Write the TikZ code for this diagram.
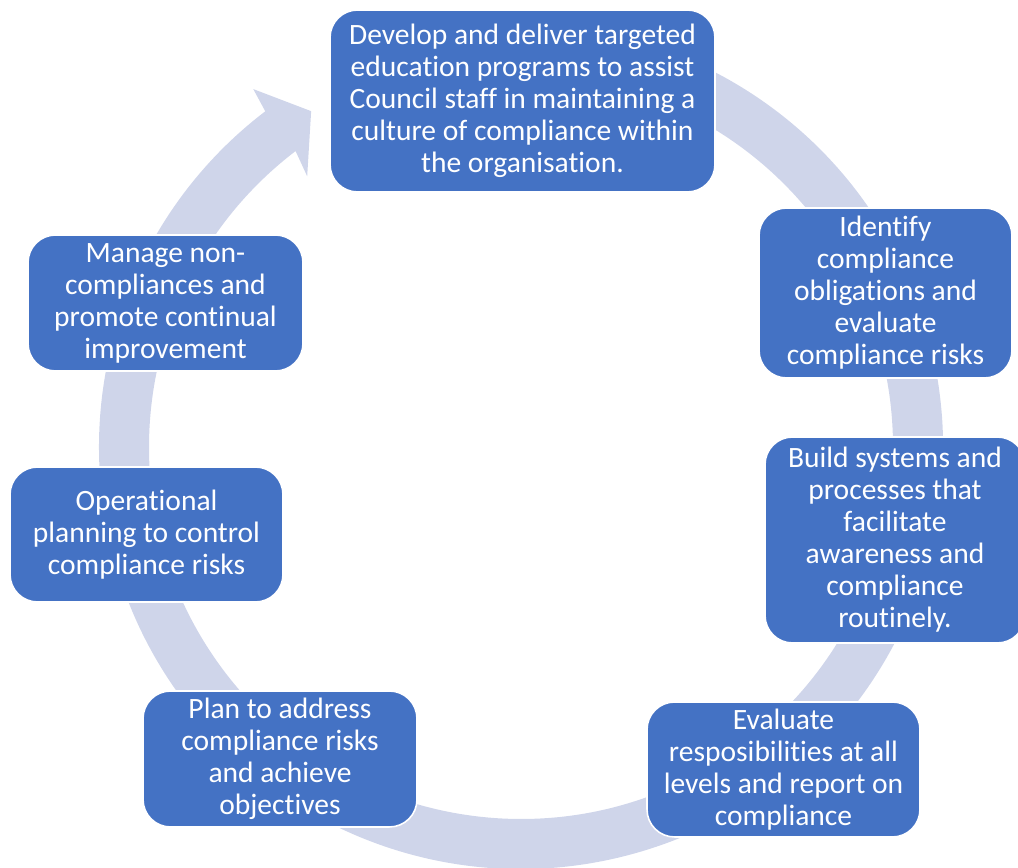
\documentclass[tikz,border=0pt]{standalone}
\usepackage{fontspec}
\setmainfont[Ligatures=NoCommon]{Carlito}
\definecolor{boxblue}{HTML}{4472C4}
\definecolor{ringgray}{HTML}{CFD5EA}
\tikzset{
  box/.style={rectangle, rounded corners=0.55cm, fill=boxblue, draw=white, line width=0.9pt,
    text=white, align=center, inner sep=0pt, font=\fontsize{16.8}{18.2}\selectfont},
}
\begin{document}
\begin{tikzpicture}[x=0.02cm,y=0.02cm]
        \useasboundingbox (0,0) rectangle (1018,868);
        % cycle arrow
        \begin{scope}[shift={(521,421)}]
        \fill[ringgray] (105:422) arc[start angle=105, end angle=-232.7, radius=422]
            -- (126.8:447) -- (122:396) -- (128.3:345) -- (127.3:372)
            arc[start angle=-232.7, end angle=105, radius=372] -- cycle;
        \end{scope}
        % steps
        \node[box, minimum width=7.7cm, minimum height=3.64cm] (develop) at (522.5,767)
            {Develop and deliver targeted\\education programs to assist\\Council staff in maintaining a\\culture of compliance within\\the organisation.};
        \node[box, minimum width=5.06cm, minimum height=3.4cm] (identify) at (885.5,575)
            {Identify\\compliance\\obligations and\\evaluate\\compliance risks};
        \node[box, minimum width=5.2cm, minimum height=4.12cm] (build) at (895,328)
            {Build systems and\\processes that\\facilitate\\awareness and\\compliance\\routinely.};
        \node[box, minimum width=5.46cm, minimum height=2.7cm] (evaluate) at (783.5,98.5)
            {Evaluate\\resposibilities at all\\levels and report on\\compliance};
        \node[box, minimum width=5.48cm, minimum height=2.72cm] (plan) at (280,109)
            {Plan to address\\compliance risks\\and achieve\\objectives};
        \node[box, minimum width=5.46cm, minimum height=2.7cm] (operational) at (146.5,333.5)
            {Operational\\planning to control\\compliance risks};
        \node[box, minimum width=5.5cm, minimum height=2.72cm] (manage) at (165.5,565)
            {Manage non-\\compliances and\\promote continual\\improvement};
\end{tikzpicture}
\end{document}
